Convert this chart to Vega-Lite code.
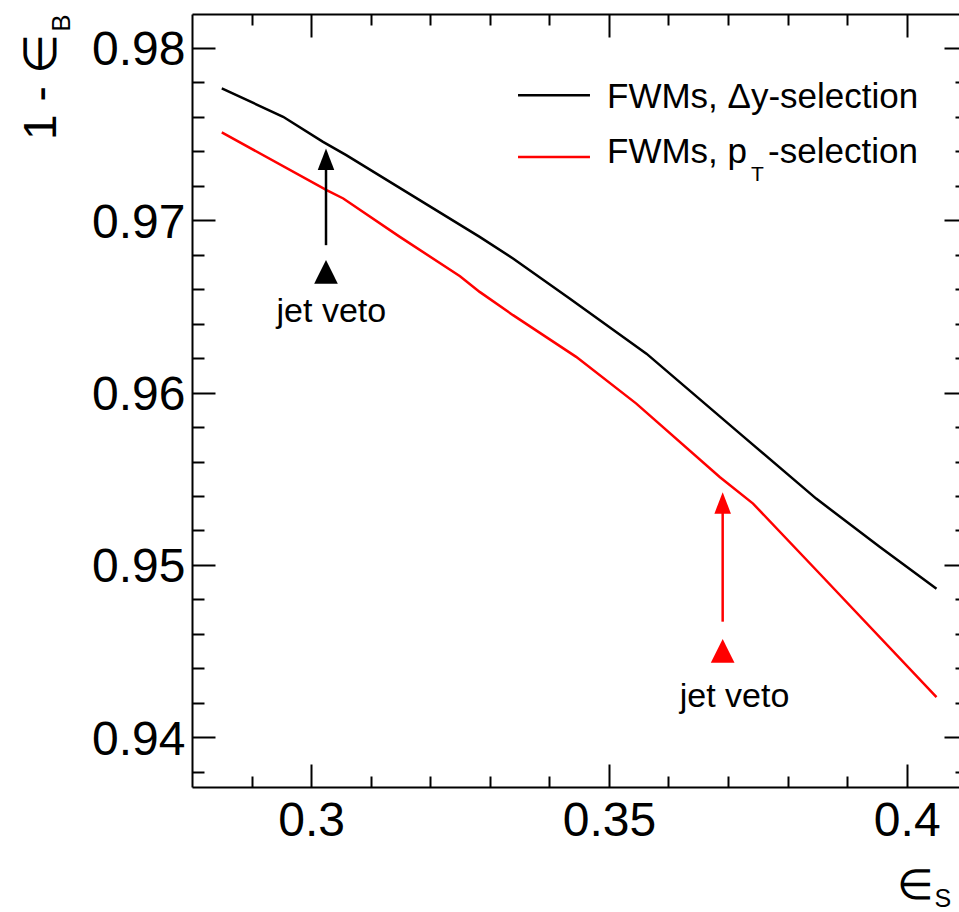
{
  "$schema": "https://vega.github.io/schema/vega-lite/v6.json",
  "width": 767,
  "height": 773,
  "autosize": {"type": "none"},
  "padding": {"left": 192, "top": 14, "right": 0, "bottom": 125},
  "background": "white",
  "config": {
    "view": {"stroke": null},
    "axis": {
      "grid": false, "domain": false, "ticks": false, "labels": false,
      "tickColor": "black", "tickWidth": 2, "domainColor": "black", "domainWidth": 2,
      "labelFont": "Liberation Sans", "titleFont": "Liberation Sans", "titleFontWeight": "normal",
      "labelColor": "black", "titleColor": "black"
    },
    "text": {"font": "Liberation Sans"}
  },
  "datasets": {
    "curves": [
      {"sel": "dy", "eff_s": 0.2850, "rej": 0.97764},
      {"sel": "dy", "eff_s": 0.2953, "rej": 0.97600},
      {"sel": "dy", "eff_s": 0.3020, "rej": 0.97454},
      {"sel": "dy", "eff_s": 0.3059, "rej": 0.97377},
      {"sel": "dy", "eff_s": 0.3283, "rej": 0.96903},
      {"sel": "dy", "eff_s": 0.3339, "rej": 0.96778},
      {"sel": "dy", "eff_s": 0.3434, "rej": 0.96546},
      {"sel": "dy", "eff_s": 0.3563, "rej": 0.96226},
      {"sel": "dy", "eff_s": 0.3720, "rej": 0.95762},
      {"sel": "dy", "eff_s": 0.3848, "rej": 0.95385},
      {"sel": "dy", "eff_s": 0.3955, "rej": 0.95104},
      {"sel": "dy", "eff_s": 0.4050, "rej": 0.94862},
      {"sel": "pt", "eff_s": 0.2850, "rej": 0.97509},
      {"sel": "pt", "eff_s": 0.3026, "rej": 0.97174},
      {"sel": "pt", "eff_s": 0.3054, "rej": 0.97126},
      {"sel": "pt", "eff_s": 0.3149, "rej": 0.96903},
      {"sel": "pt", "eff_s": 0.3250, "rej": 0.96675},
      {"sel": "pt", "eff_s": 0.3283, "rej": 0.96584},
      {"sel": "pt", "eff_s": 0.3339, "rej": 0.96449},
      {"sel": "pt", "eff_s": 0.3445, "rej": 0.96207},
      {"sel": "pt", "eff_s": 0.3546, "rej": 0.95936},
      {"sel": "pt", "eff_s": 0.3686, "rej": 0.95510},
      {"sel": "pt", "eff_s": 0.3742, "rej": 0.95356},
      {"sel": "pt", "eff_s": 0.3854, "rej": 0.94949},
      {"sel": "pt", "eff_s": 0.4050, "rej": 0.94233}
    ],
    "arrows": [
      {"sel": "dy", "x": 0.3025, "lo": 0.96855, "hi": 0.97353, "marker": 0.96700, "lx": 0.3034, "ly": 0.96408, "label": "jet veto"},
      {"sel": "pt", "x": 0.3691, "lo": 0.94671, "hi": 0.95360, "marker": 0.94502, "lx": 0.3711, "ly": 0.94174, "label": "jet veto"}
    ],
    "legend_lines": [
      {"sel": "dy", "x0": 0.33474, "x1": 0.34682, "y": 0.97725},
      {"sel": "pt", "x0": 0.33474, "x1": 0.34682, "y": 0.97366}
    ],
    "legend_text": [
      {"x": 0.34968, "y": 0.97650, "text": "FWMs, Δy-selection"},
      {"x": 0.34968, "y": 0.97329, "text": "FWMs, p"},
      {"x": 0.37672, "y": 0.97329, "text": "-selection"}
    ],
    "legend_sub": [
      {"x": 0.37386, "y": 0.97226, "text": "T"}
    ]
  },
  "layer": [
    {
      "data": {"name": "curves"},
      "mark": {"type": "line", "strokeWidth": 2.5, "clip": true},
      "encoding": {
        "x": {"field": "eff_s", "type": "quantitative",
          "scale": {"domain": [0.28, 0.40878], "nice": false, "zero": false},
          "axis": {"orient": "bottom", "values": [0.3, 0.35, 0.4], "format": "~g", "labels": true,
            "labelFontSize": 48, "labelBaseline": "alphabetic", "labelPadding": 48, "labelFlush": false, "labelOverlap": false,
            "domain": true, "title": "∈", "titleFontSize": 42, "titleX": 741, "titleY": 111,
            "titleAlign": "right", "titleBaseline": "alphabetic", "titleAngle": 0}},
        "y": {"field": "rej", "type": "quantitative",
          "scale": {"domain": [0.93712, 0.98196], "nice": false, "zero": false},
          "axis": {"orient": "left", "values": [0.94, 0.95, 0.96, 0.97, 0.98], "format": ".2f", "labels": true,
            "labelFontSize": 48, "labelBaseline": "alphabetic", "labelOffset": 17, "labelPadding": 7, "labelOverlap": false,
            "domain": true, "title": "1 - ∈", "titleFontSize": 46, "titleAngle": 270, "titleX": -137, "titleY": 19,
            "titleAlign": "right", "titleBaseline": "alphabetic"}},
        "color": {"field": "sel", "type": "nominal", "scale": {"domain": ["dy", "pt"], "range": ["black", "red"]}, "legend": null}
      }
    },
    {
      "data": {"name": "arrows"},
      "mark": {"type": "rule", "strokeWidth": 2.5},
      "encoding": {
        "x": {"field": "x", "type": "quantitative",
          "scale": {"domain": [0.28, 0.40878], "nice": false, "zero": false},
          "axis": {"orient": "bottom", "values": [0.3, 0.35, 0.4], "ticks": true, "tickSize": -23,
            "title": "S", "titleFontSize": 25, "titleX": 742, "titleY": 119, "titleAlign": "left",
            "titleBaseline": "alphabetic", "titleAngle": 0}},
        "y": {"field": "lo", "type": "quantitative",
          "scale": {"domain": [0.93712, 0.98196], "nice": false, "zero": false},
          "axis": {"orient": "left", "values": [0.94, 0.95, 0.96, 0.97, 0.98], "ticks": true, "tickSize": -23,
            "title": "B", "titleFontSize": 26, "titleAngle": 270, "titleX": -123, "titleY": 0,
            "titleAlign": "right", "titleBaseline": "alphabetic"}},
        "y2": {"field": "hi"},
        "color": {"field": "sel", "type": "nominal", "scale": {"domain": ["dy", "pt"], "range": ["black", "red"]}, "legend": null}
      }
    },
    {
      "data": {"name": "arrows"},
      "mark": {"type": "point", "shape": "M0,-1L-0.77,1L0.77,1Z", "size": 462, "filled": true, "opacity": 1, "strokeWidth": 0},
      "encoding": {
        "x": {"field": "x", "type": "quantitative",
          "scale": {"domain": [0.28, 0.40878], "nice": false, "zero": false},
          "axis": {"orient": "bottom", "values": [0.29, 0.31, 0.32, 0.33, 0.34, 0.36, 0.37, 0.38, 0.39], "ticks": true, "tickSize": -11, "title": null}},
        "y": {"field": "hi", "type": "quantitative",
          "scale": {"domain": [0.93712, 0.98196], "nice": false, "zero": false},
          "axis": {"orient": "left", "values": [0.938, 0.942, 0.944, 0.946, 0.948, 0.952, 0.954, 0.956, 0.958, 0.962, 0.964, 0.966, 0.968, 0.972, 0.974, 0.976, 0.978], "ticks": true, "tickSize": -12, "title": null}},
        "color": {"field": "sel", "type": "nominal", "scale": {"domain": ["dy", "pt"], "range": ["black", "red"]}, "legend": null}
      }
    },
    {
      "data": {"name": "arrows"},
      "mark": {"type": "point", "shape": "M0,-1L-1,1L1,1Z", "size": 560, "filled": true, "opacity": 1, "strokeWidth": 0},
      "encoding": {
        "x": {"field": "x", "type": "quantitative",
          "scale": {"domain": [0.28, 0.40878], "nice": false, "zero": false},
          "axis": {"orient": "top", "values": [0.3, 0.35, 0.4], "ticks": true, "tickSize": -23, "domain": true, "title": null}},
        "y": {"field": "marker", "type": "quantitative",
          "scale": {"domain": [0.93712, 0.98196], "nice": false, "zero": false},
          "axis": {"orient": "right", "offset": 8, "values": [0.94, 0.95, 0.96, 0.97, 0.98], "ticks": true, "tickSize": -23, "title": null}},
        "color": {"field": "sel", "type": "nominal", "scale": {"domain": ["dy", "pt"], "range": ["black", "red"]}, "legend": null}
      }
    },
    {
      "data": {"name": "arrows"},
      "mark": {"type": "text", "fontSize": 34, "align": "center", "baseline": "alphabetic", "color": "black"},
      "encoding": {
        "x": {"field": "lx", "type": "quantitative",
          "scale": {"domain": [0.28, 0.40878], "nice": false, "zero": false},
          "axis": {"orient": "top", "values": [0.29, 0.31, 0.32, 0.33, 0.34, 0.36, 0.37, 0.38, 0.39], "ticks": true, "tickSize": -11, "title": null}},
        "y": {"field": "ly", "type": "quantitative",
          "scale": {"domain": [0.93712, 0.98196], "nice": false, "zero": false},
          "axis": {"orient": "right", "offset": 8, "values": [0.938, 0.942, 0.944, 0.946, 0.948, 0.952, 0.954, 0.956, 0.958, 0.962, 0.964, 0.966, 0.968, 0.972, 0.974, 0.976, 0.978], "ticks": true, "tickSize": -12, "title": null}},
        "text": {"field": "label"}
      }
    },
    {
      "data": {"name": "legend_lines"},
      "mark": {"type": "rule", "strokeWidth": 2.5},
      "encoding": {
        "x": {"field": "x0", "type": "quantitative", "scale": {"domain": [0.28, 0.40878], "nice": false, "zero": false}, "axis": null},
        "x2": {"field": "x1"},
        "y": {"field": "y", "type": "quantitative", "scale": {"domain": [0.93712, 0.98196], "nice": false, "zero": false}, "axis": null},
        "color": {"field": "sel", "type": "nominal", "scale": {"domain": ["dy", "pt"], "range": ["black", "red"]}, "legend": null}
      }
    },
    {
      "data": {"name": "legend_text"},
      "mark": {"type": "text", "fontSize": 35, "align": "left", "baseline": "alphabetic", "color": "black"},
      "encoding": {
        "x": {"field": "x", "type": "quantitative", "scale": {"domain": [0.28, 0.40878], "nice": false, "zero": false}, "axis": null},
        "y": {"field": "y", "type": "quantitative", "scale": {"domain": [0.93712, 0.98196], "nice": false, "zero": false}, "axis": null},
        "text": {"field": "text"}
      }
    },
    {
      "data": {"name": "legend_sub"},
      "mark": {"type": "text", "fontSize": 21, "align": "left", "baseline": "alphabetic", "color": "black"},
      "encoding": {
        "x": {"field": "x", "type": "quantitative", "scale": {"domain": [0.28, 0.40878], "nice": false, "zero": false}, "axis": null},
        "y": {"field": "y", "type": "quantitative", "scale": {"domain": [0.93712, 0.98196], "nice": false, "zero": false}, "axis": null},
        "text": {"field": "text"}
      }
    }
  ],
  "resolve": {"axis": {"x": "independent", "y": "independent"}}
}
